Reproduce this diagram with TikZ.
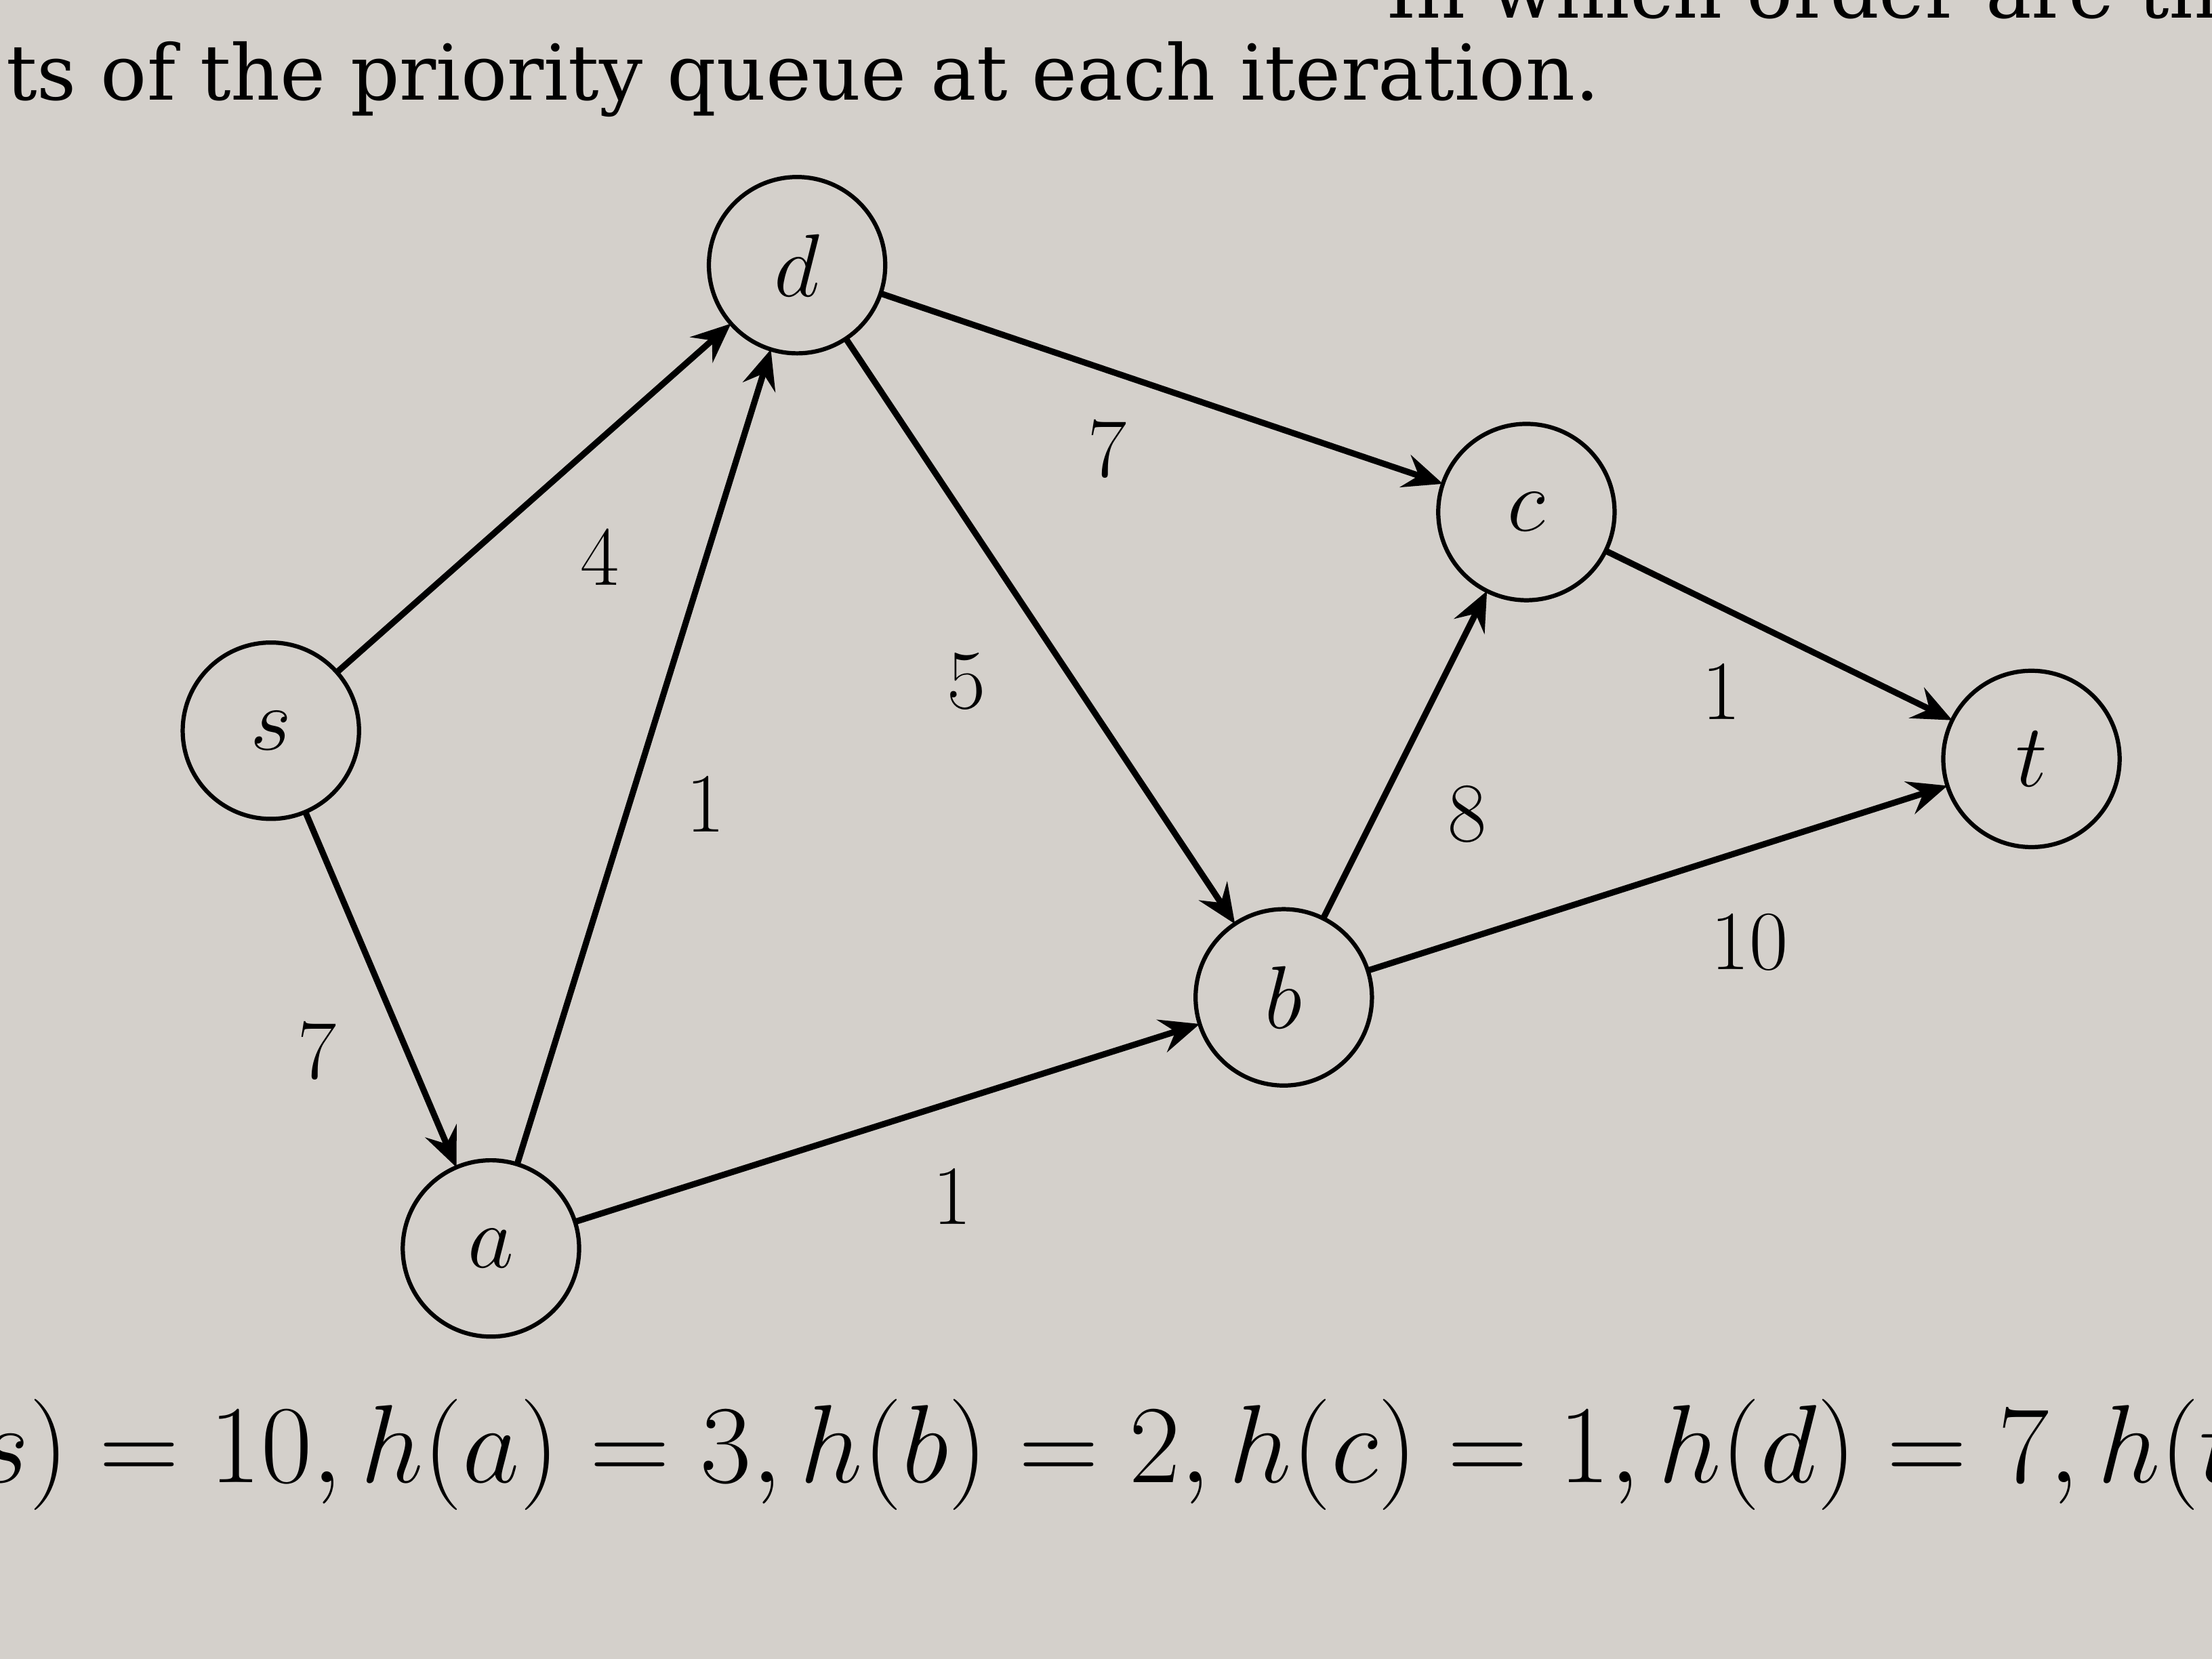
\RequirePackage{fix-cm}
\documentclass[tikz,border=0pt]{standalone}
\usepackage{fontspec}
\newfontfamily\pagefont{DejaVu Serif}
\usetikzlibrary{arrows.meta}
\definecolor{paper}{RGB}{212,208,203}
\tikzset{
	vertex/.style={draw,circle,line width=0.85pt,inner sep=0,outer sep=0,minimum size=1.25cm,font=\fontsize{18}{20}\selectfont},
	arc/.style={line width=1.25pt,-{Stealth[length=2.8mm,width=2.4mm,inset=1mm]}},
	wt/.style={font=\fontsize{17}{20}\selectfont},
	pagetext/.style={anchor=base west,font=\pagefont\fontsize{15.5}{18}\selectfont}
}
\begin{document}
\begin{tikzpicture}
	\useasboundingbox (0,0) rectangle (15.68,11.76);
	\clip (0,0) rectangle (15.68,11.76);
	\fill[paper] (0,0) rectangle (15.68,11.76);
	% text of the page around the graph
	\node[pagetext] (prev) at (9.70,11.63) {In which order are the};
	\node[pagetext] (task) at (-0.08,11.05) {ts of the priority queue at each iteration.};
	\node[anchor=base west,font=\fontsize{22.4}{26}\selectfont] (heur) at (-0.28,1.25) {$s) = 10, h(a) = 3, h(b) = 2, h(c) = 1, h(d) = 7, h(t)$};
	% vertices
	\node[vertex] (s) at (1.92,6.58) {$s$};
	\node[vertex] (a) at (3.48,2.91) {$a$};
	\node[vertex] (d) at (5.65,9.88) {$d$};
	\node[vertex] (b) at (9.10,4.69) {$b$};
	\node[vertex] (c) at (10.82,8.13) {$c$};
	\node[vertex] (t) at (14.40,6.38) {$t$};
	% arcs
	\draw[arc] (s) -- (d);
	\draw[arc] (s) -- (a);
	\draw[arc] (a) -- (d);
	\draw[arc] (a) -- (b);
	\draw[arc] (d) -- (b);
	\draw[arc] (d) -- (c);
	\draw[arc] (b) -- (c);
	\draw[arc] (b) -- (t);
	\draw[arc] (c) -- (t);
	% weights
	\node[wt] (wsd) at (4.25,7.81) {4};
	\node[wt] (wsa) at (2.25,4.31) {7};
	\node[wt] (wad) at (5.00,6.06) {1};
	\node[wt] (wdb) at (6.85,6.93) {5};
	\node[wt] (wdc) at (7.85,8.58) {7};
	\node[wt] (wab) at (6.75,3.28) {1};
	\node[wt] (wbc) at (10.40,5.99) {8};
	\node[wt] (wct) at (12.20,6.86) {1};
	\node[wt] (wbt) at (12.40,5.08) {10};
\end{tikzpicture}
\end{document}
